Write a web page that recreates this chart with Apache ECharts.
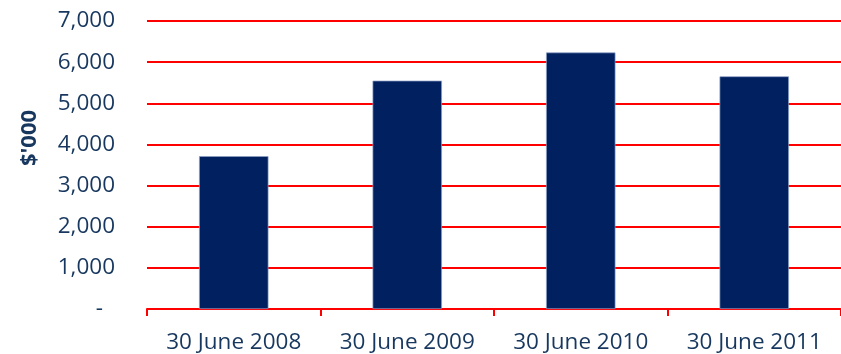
<!DOCTYPE html>
<html>
<head>
<meta charset="utf-8">
<script src="https://cdn.jsdelivr.net/npm/echarts@6/dist/echarts.min.js"></script>
<style>
html,body{margin:0;padding:0;background:#fff;}
#chart{width:841px;height:354px;}
</style>
</head>
<body>
<div id="chart"></div>
<script>
var categories = ['30 June 2008', '30 June 2009', '30 June 2010', '30 June 2011'];
var values = [3715, 5550, 6235, 5655];
var yTicks = [0, 1000, 2000, 3000, 4000, 5000, 6000, 7000];
var yAxisTitle = "$'000";

var textColor = '#17375E';
var fontFam = '"Open Sans", "Liberation Sans", sans-serif';

var chart = echarts.init(document.getElementById('chart'), null, {renderer: 'canvas'});
chart.setOption({
  animation: false,
  grid: {left: 147, right: 0, top: 21, bottom: 45, containLabel: false},
  xAxis: {
    type: 'category',
    data: categories,
    axisLine: {show: true, lineStyle: {color: '#FF0000', width: 2}},
    axisTick: {show: true, interval: 0, alignWithLabel: false, length: 7, lineStyle: {color: '#FF0000', width: 2}},
    axisLabel: {interval: 0, hideOverlap: false, color: textColor, fontSize: 22.5, fontFamily: fontFam, margin: 22}
  },
  yAxis: {
    type: 'value',
    min: yTicks[0],
    max: yTicks[yTicks.length - 1],
    interval: 1000,
    axisLine: {show: false},
    axisTick: {show: false},
    splitLine: {show: true, lineStyle: {color: '#FF0000', width: 2}},
    axisLabel: {
      color: textColor, fontSize: 22.5, fontFamily: fontFam, margin: 32,
      formatter: function (v) {
        if (v === 0) return '{d|-}';
        return v.toLocaleString('en-US');
      },
      rich: {d: {color: textColor, fontSize: 22.5, fontFamily: fontFam, padding: [0, 12, 0, 0]}}
    }
  },
  graphic: [{
    type: 'text',
    x: 30, y: 138,
    rotation: Math.PI / 2,
    style: {
      text: yAxisTitle,
      fill: textColor,
      font: 'bold 22px ' + fontFam,
      textAlign: 'center',
      textVerticalAlign: 'middle'
    }
  }],
  series: [{
    type: 'bar',
    data: values,
    barWidth: '40%',
    itemStyle: {color: '#002060', borderColor: '#8FA2C8', borderWidth: 0.7}
  }]
});
</script>
</body>
</html>
